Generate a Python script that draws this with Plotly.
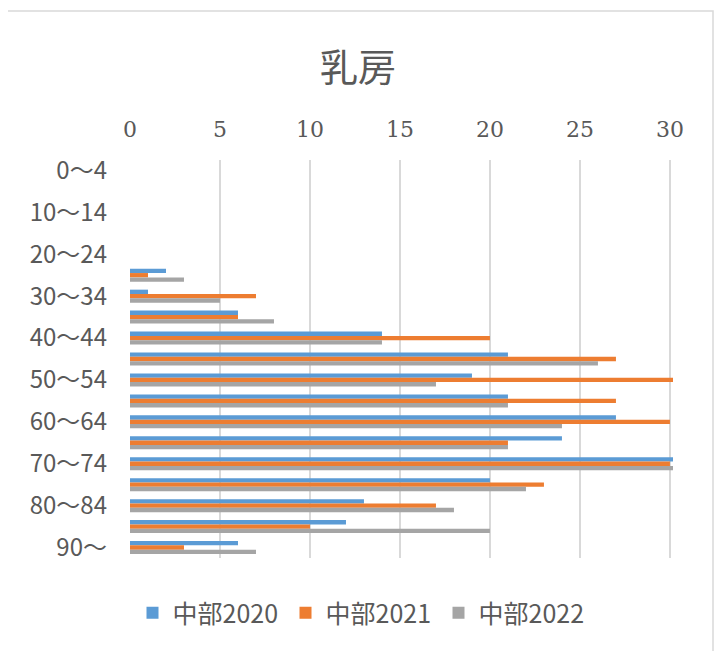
import plotly.graph_objects as go

categories = ["0～4", "5～9", "10～14", "15～19", "20～24", "25～29", "30～34", "35～39",
              "40～44", "45～49", "50～54", "55～59", "60～64", "65～69", "70～74",
              "75～79", "80～84", "85～89", "90～"]
shown_labels = ["0～4", "10～14", "20～24", "30～34", "40～44", "50～54",
                "60～64", "70～74", "80～84", "90～"]
series_names = ["中部2020", "中部2021", "中部2022"]
v2020 = [0, 0, 0, 0, 0, 2, 1, 6, 14, 21, 19, 21, 27, 24, 30.2, 20, 13, 12, 6]
v2021 = [0, 0, 0, 0, 0, 1, 7, 6, 20, 27, 30.2, 27, 30, 21, 30, 23, 17, 10, 3]
v2022 = [0, 0, 0, 0, 0, 3, 5, 8, 14, 26, 17, 21, 24, 21, 30.2, 22, 18, 20, 7]
x_ticks = [0, 5, 10, 15, 20, 25, 30]
colors = ["#5B9BD5", "#ED7D31", "#A5A5A5"]

txt = "#595959"
fig = go.Figure()
for name, vals, c in zip(series_names, [v2020, v2021, v2022], colors):
    fig.add_trace(go.Bar(y=categories, x=vals, name=name, orientation="h",
                         marker=dict(color=c, line=dict(width=0))))

# page body has an 8px margin, so work in reference pixels minus 8
OFF = 8
W, H = 726 - OFF, 651 - OFF
L, T = 130 - OFF, 160 - OFF
R = W - (673 - OFF)
B = H - (558 - OFF)
pw, ph = W - L - R, H - T - B

def px_x(px):
    return (px - OFF - L) / pw

def px_y(py):
    return (H - B - (py - OFF)) / ph

fig.update_layout(
    width=W, height=H,
    margin=dict(l=L, r=R, t=T, b=B, autoexpand=False),
    paper_bgcolor="white", plot_bgcolor="white",
    barmode="group", bargap=0.38, bargroupgap=0,
    title=dict(text="乳房", x=(358 - OFF) / W, xanchor="center",
               y=1 - (68 - OFF) / H, yanchor="middle", yref="container",
               font=dict(family="Noto Sans CJK JP", size=38, color=txt)),
    xaxis=dict(side="top", range=[0, 30.17], tickvals=x_ticks, showgrid=True,
               gridcolor="#D9D9D9", gridwidth=1.5, zeroline=False, showline=False,
               ticks="", ticklabelstandoff=18,
               tickfont=dict(family="DejaVu Serif, serif", size=22, color=txt)),
    yaxis=dict(categoryorder="array", categoryarray=categories, autorange="reversed",
               tickvals=shown_labels, showgrid=False, zeroline=False, showline=False,
               ticks="", ticklabelstandoff=22,
               tickfont=dict(family="Noto Sans CJK JP", size=24, color=txt)),
    legend=dict(orientation="h", x=px_x(362), xanchor="center",
                y=px_y(613), yanchor="middle", entrywidth=108,
                font=dict(family="Noto Sans CJK JP", size=25, color=txt),
                itemsizing="constant", traceorder="normal", itemwidth=30),
    shapes=[dict(type="rect", xref="paper", yref="paper",
                 x0=px_x(5), x1=px_x(713),
                 y0=px_y(700), y1=px_y(11),
                 line=dict(color="#D9D9D9", width=1.5), fillcolor="rgba(0,0,0,0)",
                 layer="below")],
)

fig.write_html("out.html")
